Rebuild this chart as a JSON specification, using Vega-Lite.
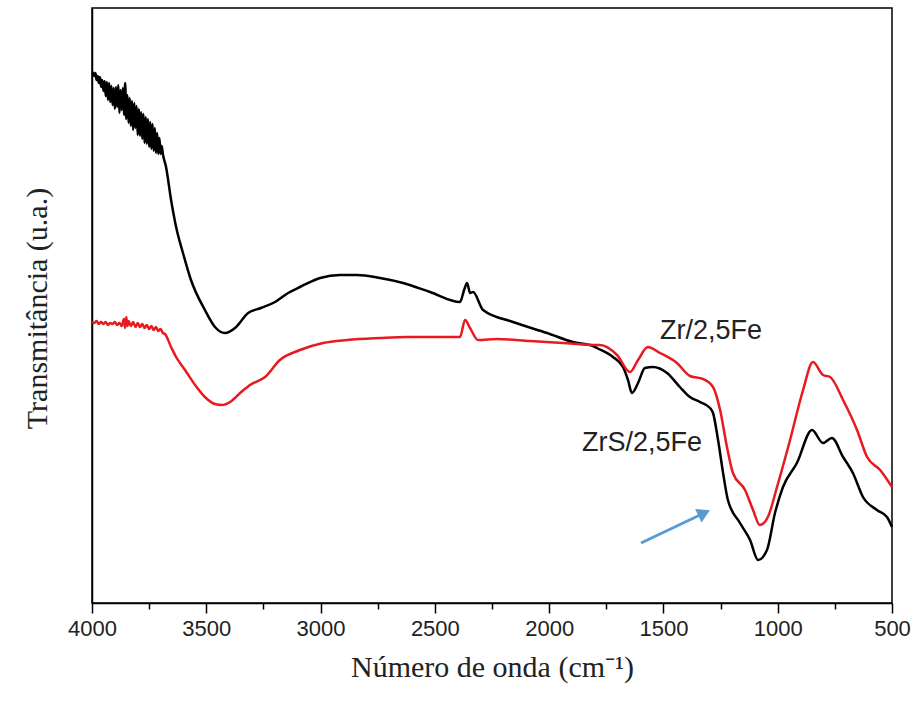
{
  "$schema": "https://vega.github.io/schema/vega-lite/v6.json",
  "width": 800,
  "height": 595,
  "autosize": {"type": "none"},
  "padding": {"left": 92, "top": 8, "right": 24, "bottom": 101},
  "background": "white",
  "config": {
    "view": {"stroke": "#000000", "strokeWidth": 1.5},
    "axis": {"domainColor": "#000000", "domainWidth": 1.5, "tickColor": "#000000", "tickWidth": 1.5, "grid": false,
      "labelFont": "Liberation Sans", "labelFontSize": 22, "labelColor": "#222222",
      "titleFont": "Liberation Serif", "titleFontSize": 30, "titleFontWeight": "normal", "titleColor": "#222222"}
  },
  "datasets": {
    "spectra": [
      {"s": "ZrS/2,5Fe", "wn": 4000, "t": 531},
      {"s": "ZrS/2,5Fe", "wn": 3995, "t": 530},
      {"s": "ZrS/2,5Fe", "wn": 3990, "t": 527},
      {"s": "ZrS/2,5Fe", "wn": 3985, "t": 530},
      {"s": "ZrS/2,5Fe", "wn": 3980, "t": 523},
      {"s": "ZrS/2,5Fe", "wn": 3975, "t": 527},
      {"s": "ZrS/2,5Fe", "wn": 3970, "t": 520},
      {"s": "ZrS/2,5Fe", "wn": 3965, "t": 526},
      {"s": "ZrS/2,5Fe", "wn": 3960, "t": 516},
      {"s": "ZrS/2,5Fe", "wn": 3955, "t": 523},
      {"s": "ZrS/2,5Fe", "wn": 3950, "t": 512},
      {"s": "ZrS/2,5Fe", "wn": 3945, "t": 522},
      {"s": "ZrS/2,5Fe", "wn": 3940, "t": 507},
      {"s": "ZrS/2,5Fe", "wn": 3935, "t": 521},
      {"s": "ZrS/2,5Fe", "wn": 3930, "t": 503},
      {"s": "ZrS/2,5Fe", "wn": 3925, "t": 520},
      {"s": "ZrS/2,5Fe", "wn": 3920, "t": 501},
      {"s": "ZrS/2,5Fe", "wn": 3915, "t": 517},
      {"s": "ZrS/2,5Fe", "wn": 3910, "t": 498},
      {"s": "ZrS/2,5Fe", "wn": 3905, "t": 515},
      {"s": "ZrS/2,5Fe", "wn": 3900, "t": 494},
      {"s": "ZrS/2,5Fe", "wn": 3895, "t": 516},
      {"s": "ZrS/2,5Fe", "wn": 3890, "t": 496},
      {"s": "ZrS/2,5Fe", "wn": 3885, "t": 518},
      {"s": "ZrS/2,5Fe", "wn": 3880, "t": 490},
      {"s": "ZrS/2,5Fe", "wn": 3875, "t": 513},
      {"s": "ZrS/2,5Fe", "wn": 3870, "t": 493},
      {"s": "ZrS/2,5Fe", "wn": 3865, "t": 515},
      {"s": "ZrS/2,5Fe", "wn": 3860, "t": 488},
      {"s": "ZrS/2,5Fe", "wn": 3855, "t": 520},
      {"s": "ZrS/2,5Fe", "wn": 3850, "t": 484},
      {"s": "ZrS/2,5Fe", "wn": 3845, "t": 508},
      {"s": "ZrS/2,5Fe", "wn": 3840, "t": 480},
      {"s": "ZrS/2,5Fe", "wn": 3835, "t": 505},
      {"s": "ZrS/2,5Fe", "wn": 3830, "t": 477},
      {"s": "ZrS/2,5Fe", "wn": 3825, "t": 502},
      {"s": "ZrS/2,5Fe", "wn": 3820, "t": 473},
      {"s": "ZrS/2,5Fe", "wn": 3815, "t": 500},
      {"s": "ZrS/2,5Fe", "wn": 3810, "t": 475},
      {"s": "ZrS/2,5Fe", "wn": 3805, "t": 497},
      {"s": "ZrS/2,5Fe", "wn": 3800, "t": 468},
      {"s": "ZrS/2,5Fe", "wn": 3795, "t": 494},
      {"s": "ZrS/2,5Fe", "wn": 3790, "t": 467},
      {"s": "ZrS/2,5Fe", "wn": 3785, "t": 491},
      {"s": "ZrS/2,5Fe", "wn": 3780, "t": 464},
      {"s": "ZrS/2,5Fe", "wn": 3775, "t": 489},
      {"s": "ZrS/2,5Fe", "wn": 3770, "t": 460},
      {"s": "ZrS/2,5Fe", "wn": 3765, "t": 486},
      {"s": "ZrS/2,5Fe", "wn": 3760, "t": 459},
      {"s": "ZrS/2,5Fe", "wn": 3755, "t": 484},
      {"s": "ZrS/2,5Fe", "wn": 3750, "t": 456},
      {"s": "ZrS/2,5Fe", "wn": 3745, "t": 481},
      {"s": "ZrS/2,5Fe", "wn": 3740, "t": 454},
      {"s": "ZrS/2,5Fe", "wn": 3735, "t": 479},
      {"s": "ZrS/2,5Fe", "wn": 3730, "t": 452},
      {"s": "ZrS/2,5Fe", "wn": 3725, "t": 475},
      {"s": "ZrS/2,5Fe", "wn": 3720, "t": 450},
      {"s": "ZrS/2,5Fe", "wn": 3715, "t": 470},
      {"s": "ZrS/2,5Fe", "wn": 3710, "t": 449},
      {"s": "ZrS/2,5Fe", "wn": 3705, "t": 465},
      {"s": "ZrS/2,5Fe", "wn": 3700, "t": 449},
      {"s": "ZrS/2,5Fe", "wn": 3695, "t": 457},
      {"s": "ZrS/2,5Fe", "wn": 3690, "t": 449},
      {"s": "ZrS/2,5Fe", "wn": 3676, "t": 436},
      {"s": "ZrS/2,5Fe", "wn": 3654, "t": 403},
      {"s": "ZrS/2,5Fe", "wn": 3632, "t": 376},
      {"s": "ZrS/2,5Fe", "wn": 3602, "t": 350},
      {"s": "ZrS/2,5Fe", "wn": 3567, "t": 323},
      {"s": "ZrS/2,5Fe", "wn": 3506, "t": 293},
      {"s": "ZrS/2,5Fe", "wn": 3462, "t": 276},
      {"s": "ZrS/2,5Fe", "wn": 3418, "t": 270},
      {"s": "ZrS/2,5Fe", "wn": 3374, "t": 275},
      {"s": "ZrS/2,5Fe", "wn": 3317, "t": 290},
      {"s": "ZrS/2,5Fe", "wn": 3261, "t": 295},
      {"s": "ZrS/2,5Fe", "wn": 3199, "t": 301},
      {"s": "ZrS/2,5Fe", "wn": 3142, "t": 310},
      {"s": "ZrS/2,5Fe", "wn": 3090, "t": 316},
      {"s": "ZrS/2,5Fe", "wn": 3002, "t": 325},
      {"s": "ZrS/2,5Fe", "wn": 2915, "t": 328},
      {"s": "ZrS/2,5Fe", "wn": 2841, "t": 328},
      {"s": "ZrS/2,5Fe", "wn": 2740, "t": 325},
      {"s": "ZrS/2,5Fe", "wn": 2639, "t": 320},
      {"s": "ZrS/2,5Fe", "wn": 2521, "t": 311},
      {"s": "ZrS/2,5Fe", "wn": 2390, "t": 301},
      {"s": "ZrS/2,5Fe", "wn": 2372, "t": 313},
      {"s": "ZrS/2,5Fe", "wn": 2359, "t": 320},
      {"s": "ZrS/2,5Fe", "wn": 2346, "t": 310},
      {"s": "ZrS/2,5Fe", "wn": 2333, "t": 311},
      {"s": "ZrS/2,5Fe", "wn": 2289, "t": 293},
      {"s": "ZrS/2,5Fe", "wn": 2158, "t": 281},
      {"s": "ZrS/2,5Fe", "wn": 2009, "t": 270},
      {"s": "ZrS/2,5Fe", "wn": 1896, "t": 261},
      {"s": "ZrS/2,5Fe", "wn": 1808, "t": 257},
      {"s": "ZrS/2,5Fe", "wn": 1791, "t": 255},
      {"s": "ZrS/2,5Fe", "wn": 1721, "t": 246},
      {"s": "ZrS/2,5Fe", "wn": 1677, "t": 236},
      {"s": "ZrS/2,5Fe", "wn": 1655, "t": 223},
      {"s": "ZrS/2,5Fe", "wn": 1638, "t": 210},
      {"s": "ZrS/2,5Fe", "wn": 1611, "t": 220},
      {"s": "ZrS/2,5Fe", "wn": 1581, "t": 235},
      {"s": "ZrS/2,5Fe", "wn": 1546, "t": 236},
      {"s": "ZrS/2,5Fe", "wn": 1484, "t": 230},
      {"s": "ZrS/2,5Fe", "wn": 1428, "t": 216},
      {"s": "ZrS/2,5Fe", "wn": 1384, "t": 206},
      {"s": "ZrS/2,5Fe", "wn": 1340, "t": 201},
      {"s": "ZrS/2,5Fe", "wn": 1296, "t": 195},
      {"s": "ZrS/2,5Fe", "wn": 1283, "t": 190},
      {"s": "ZrS/2,5Fe", "wn": 1261, "t": 163},
      {"s": "ZrS/2,5Fe", "wn": 1239, "t": 130},
      {"s": "ZrS/2,5Fe", "wn": 1218, "t": 103},
      {"s": "ZrS/2,5Fe", "wn": 1165, "t": 80},
      {"s": "ZrS/2,5Fe", "wn": 1121, "t": 63},
      {"s": "ZrS/2,5Fe", "wn": 1086, "t": 43},
      {"s": "ZrS/2,5Fe", "wn": 1047, "t": 53},
      {"s": "ZrS/2,5Fe", "wn": 1012, "t": 90},
      {"s": "ZrS/2,5Fe", "wn": 977, "t": 116},
      {"s": "ZrS/2,5Fe", "wn": 916, "t": 140},
      {"s": "ZrS/2,5Fe", "wn": 850, "t": 173},
      {"s": "ZrS/2,5Fe", "wn": 802, "t": 160},
      {"s": "ZrS/2,5Fe", "wn": 763, "t": 165},
      {"s": "ZrS/2,5Fe", "wn": 714, "t": 146},
      {"s": "ZrS/2,5Fe", "wn": 671, "t": 130},
      {"s": "ZrS/2,5Fe", "wn": 627, "t": 106},
      {"s": "ZrS/2,5Fe", "wn": 566, "t": 93},
      {"s": "ZrS/2,5Fe", "wn": 522, "t": 86},
      {"s": "ZrS/2,5Fe", "wn": 500, "t": 76},
      {"s": "Zr/2,5Fe", "wn": 4000, "t": 281},
      {"s": "Zr/2,5Fe", "wn": 3990, "t": 280},
      {"s": "Zr/2,5Fe", "wn": 3980, "t": 282},
      {"s": "Zr/2,5Fe", "wn": 3970, "t": 279},
      {"s": "Zr/2,5Fe", "wn": 3960, "t": 281},
      {"s": "Zr/2,5Fe", "wn": 3950, "t": 279},
      {"s": "Zr/2,5Fe", "wn": 3940, "t": 281},
      {"s": "Zr/2,5Fe", "wn": 3930, "t": 278},
      {"s": "Zr/2,5Fe", "wn": 3920, "t": 280},
      {"s": "Zr/2,5Fe", "wn": 3910, "t": 279},
      {"s": "Zr/2,5Fe", "wn": 3900, "t": 281},
      {"s": "Zr/2,5Fe", "wn": 3890, "t": 278},
      {"s": "Zr/2,5Fe", "wn": 3880, "t": 280},
      {"s": "Zr/2,5Fe", "wn": 3870, "t": 277},
      {"s": "Zr/2,5Fe", "wn": 3860, "t": 284},
      {"s": "Zr/2,5Fe", "wn": 3855, "t": 275},
      {"s": "Zr/2,5Fe", "wn": 3850, "t": 286},
      {"s": "Zr/2,5Fe", "wn": 3845, "t": 277},
      {"s": "Zr/2,5Fe", "wn": 3840, "t": 282},
      {"s": "Zr/2,5Fe", "wn": 3830, "t": 277},
      {"s": "Zr/2,5Fe", "wn": 3820, "t": 281},
      {"s": "Zr/2,5Fe", "wn": 3810, "t": 276},
      {"s": "Zr/2,5Fe", "wn": 3800, "t": 280},
      {"s": "Zr/2,5Fe", "wn": 3790, "t": 276},
      {"s": "Zr/2,5Fe", "wn": 3780, "t": 279},
      {"s": "Zr/2,5Fe", "wn": 3770, "t": 275},
      {"s": "Zr/2,5Fe", "wn": 3760, "t": 278},
      {"s": "Zr/2,5Fe", "wn": 3750, "t": 274},
      {"s": "Zr/2,5Fe", "wn": 3740, "t": 277},
      {"s": "Zr/2,5Fe", "wn": 3730, "t": 273},
      {"s": "Zr/2,5Fe", "wn": 3720, "t": 276},
      {"s": "Zr/2,5Fe", "wn": 3710, "t": 272},
      {"s": "Zr/2,5Fe", "wn": 3700, "t": 274},
      {"s": "Zr/2,5Fe", "wn": 3690, "t": 270},
      {"s": "Zr/2,5Fe", "wn": 3681, "t": 269},
      {"s": "Zr/2,5Fe", "wn": 3654, "t": 256},
      {"s": "Zr/2,5Fe", "wn": 3632, "t": 246},
      {"s": "Zr/2,5Fe", "wn": 3593, "t": 233},
      {"s": "Zr/2,5Fe", "wn": 3549, "t": 218},
      {"s": "Zr/2,5Fe", "wn": 3506, "t": 206},
      {"s": "Zr/2,5Fe", "wn": 3462, "t": 199},
      {"s": "Zr/2,5Fe", "wn": 3431, "t": 198},
      {"s": "Zr/2,5Fe", "wn": 3396, "t": 201},
      {"s": "Zr/2,5Fe", "wn": 3352, "t": 210},
      {"s": "Zr/2,5Fe", "wn": 3309, "t": 218},
      {"s": "Zr/2,5Fe", "wn": 3243, "t": 226},
      {"s": "Zr/2,5Fe", "wn": 3178, "t": 243},
      {"s": "Zr/2,5Fe", "wn": 3090, "t": 253},
      {"s": "Zr/2,5Fe", "wn": 2989, "t": 260},
      {"s": "Zr/2,5Fe", "wn": 2884, "t": 263},
      {"s": "Zr/2,5Fe", "wn": 2740, "t": 265},
      {"s": "Zr/2,5Fe", "wn": 2622, "t": 266},
      {"s": "Zr/2,5Fe", "wn": 2521, "t": 266},
      {"s": "Zr/2,5Fe", "wn": 2390, "t": 266},
      {"s": "Zr/2,5Fe", "wn": 2368, "t": 283},
      {"s": "Zr/2,5Fe", "wn": 2346, "t": 275},
      {"s": "Zr/2,5Fe", "wn": 2311, "t": 263},
      {"s": "Zr/2,5Fe", "wn": 2228, "t": 264},
      {"s": "Zr/2,5Fe", "wn": 2084, "t": 262},
      {"s": "Zr/2,5Fe", "wn": 1939, "t": 260},
      {"s": "Zr/2,5Fe", "wn": 1808, "t": 258},
      {"s": "Zr/2,5Fe", "wn": 1778, "t": 258},
      {"s": "Zr/2,5Fe", "wn": 1703, "t": 248},
      {"s": "Zr/2,5Fe", "wn": 1646, "t": 231},
      {"s": "Zr/2,5Fe", "wn": 1611, "t": 243},
      {"s": "Zr/2,5Fe", "wn": 1568, "t": 256},
      {"s": "Zr/2,5Fe", "wn": 1515, "t": 250},
      {"s": "Zr/2,5Fe", "wn": 1441, "t": 240},
      {"s": "Zr/2,5Fe", "wn": 1384, "t": 227},
      {"s": "Zr/2,5Fe", "wn": 1327, "t": 224},
      {"s": "Zr/2,5Fe", "wn": 1283, "t": 216},
      {"s": "Zr/2,5Fe", "wn": 1252, "t": 193},
      {"s": "Zr/2,5Fe", "wn": 1222, "t": 156},
      {"s": "Zr/2,5Fe", "wn": 1196, "t": 130},
      {"s": "Zr/2,5Fe", "wn": 1143, "t": 113},
      {"s": "Zr/2,5Fe", "wn": 1108, "t": 93},
      {"s": "Zr/2,5Fe", "wn": 1078, "t": 78},
      {"s": "Zr/2,5Fe", "wn": 1043, "t": 86},
      {"s": "Zr/2,5Fe", "wn": 1003, "t": 116},
      {"s": "Zr/2,5Fe", "wn": 946, "t": 163},
      {"s": "Zr/2,5Fe", "wn": 889, "t": 213},
      {"s": "Zr/2,5Fe", "wn": 846, "t": 241},
      {"s": "Zr/2,5Fe", "wn": 802, "t": 228},
      {"s": "Zr/2,5Fe", "wn": 771, "t": 226},
      {"s": "Zr/2,5Fe", "wn": 714, "t": 203},
      {"s": "Zr/2,5Fe", "wn": 653, "t": 173},
      {"s": "Zr/2,5Fe", "wn": 609, "t": 146},
      {"s": "Zr/2,5Fe", "wn": 552, "t": 133},
      {"s": "Zr/2,5Fe", "wn": 500, "t": 116}
    ],
    "labels": [
      {"label": "Zr/2,5Fe", "wn": 1515, "t": 272},
      {"label": "ZrS/2,5Fe", "wn": 1856, "t": 160}
    ],
    "arrow": [
      {"wn": 1598, "t": 60, "wn2": 1340, "t2": 88}
    ],
    "arrowhead": [
      {"wn": 1322, "t": 90}
    ]
  },
  "layer": [
    {
      "data": {"name": "spectra"},
      "mark": {"type": "line", "strokeWidth": 2.5, "strokeJoin": "round", "interpolate": "monotone"},
      "encoding": {
        "x": {"field": "wn", "type": "quantitative",
          "scale": {"domain": [500, 4000], "reverse": true, "nice": false, "zero": false},
          "axis": {"title": "Número de onda (cm⁻¹)", "values": [4000, 3750, 3500, 3250, 3000, 2750, 2500, 2250, 2000, 1750, 1500, 1250, 1000, 750, 500],
            "format": "d", "labelExpr": "datum.value % 500 === 0 ? datum.label : ''",
            "tickSize": {"condition": {"test": "datum.value % 500 !== 0", "value": 6}, "value": 10},
            "labelPadding": 5, "labelFlush": false, "labelOverlap": false,
            "titleBaseline": "alphabetic", "titleY": 73}},
        "y": {"field": "t", "type": "quantitative",
          "scale": {"domain": [0, 595], "nice": false, "zero": false},
          "axis": {"title": "Transmitância (u.a.)", "ticks": false, "labels": false,
            "titleAngle": -90, "titleBaseline": "alphabetic", "titleX": -46, "titleY": 300}},
        "color": {"field": "s", "type": "nominal",
          "scale": {"domain": ["ZrS/2,5Fe", "Zr/2,5Fe"], "range": ["#000000", "#e8191f"]},
          "legend": null}
      }
    },
    {
      "data": {"name": "labels"},
      "mark": {"type": "text", "align": "left", "baseline": "middle", "font": "Liberation Sans", "fontSize": 27, "color": "#222222"},
      "encoding": {
        "x": {"field": "wn", "type": "quantitative"},
        "y": {"field": "t", "type": "quantitative"},
        "text": {"field": "label"}
      }
    },
    {
      "data": {"name": "arrow"},
      "mark": {"type": "rule", "color": "#5b9bd5", "strokeWidth": 3},
      "encoding": {
        "x": {"field": "wn", "type": "quantitative"},
        "x2": {"field": "wn2"},
        "y": {"field": "t", "type": "quantitative"},
        "y2": {"field": "t2"}
      }
    },
    {
      "data": {"name": "arrowhead"},
      "mark": {"type": "point", "shape": "triangle-right", "filled": true, "color": "#5b9bd5", "size": 220, "angle": -25.6, "opacity": 1},
      "encoding": {
        "x": {"field": "wn", "type": "quantitative"},
        "y": {"field": "t", "type": "quantitative"}
      }
    }
  ]
}
